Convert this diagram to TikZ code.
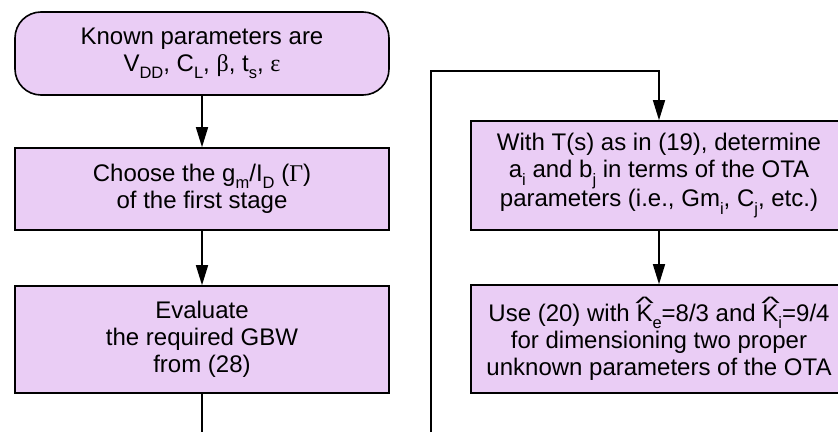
\documentclass[tikz,border=0pt]{standalone}
\usepackage{graphicx}
\usepackage{fontspec}
\setmainfont{Liberation Sans}
\newfontfamily\gr{Liberation Serif}
\usetikzlibrary{arrows.meta}
\definecolor{boxfill}{RGB}{234,205,245}
\newcommand\lo[1]{\raisebox{-0.3em}{\fontsize{16.5}{16.5}\selectfont #1}}
\newcommand\hatK{\makebox[0pt][l]{\hspace{-0.05em}\raisebox{0.5em}{\scalebox{1.65}[0.75]{\char`\^}}}K}
\begin{document}
\begin{tikzpicture}[x=1pt,y=1pt,
  stepbox/.style={draw=black,line width=1.6pt,fill=boxfill,align=center,
    inner sep=0pt,font=\fontsize{24}{27}\selectfont},
  flow/.style={line width=1.6pt,-{Triangle[length=20pt,width=12pt]}},
  plain/.style={line width=1.6pt}]
\useasboundingbox (0,0) rectangle (838,432);
\clip (0,0) rectangle (838,432);
\node[stepbox,rounded corners=26pt,minimum width=374pt,minimum height=83pt] (known) at (202,378.5)
  {Known parameters are\\V\lo{DD}, C\lo{L}, {\gr β}, t\lo{s}, {\gr ε}};
\node[stepbox,minimum width=374pt,minimum height=82pt] (choose) at (202,243)
  {Choose the g\lo{m}/I\lo{D} ({\gr Γ})\\of the first stage};
\node[stepbox,minimum width=374pt,minimum height=107pt] (eval) at (202,92.5)
  {Evaluate\\the required GBW\\from (28)};
\node[stepbox,minimum width=376pt,minimum height=109pt] (tfun) at (659,256.5)
  {With T(s) as in (19), determine\\a\lo{i} and b\lo{j} in terms of the OTA\\parameters (i.e., Gm\lo{i}, C\lo{j}, etc.)};
\node[stepbox,minimum width=376pt,minimum height=108pt] (use) at (659,93)
  {Use (20) with \hatK\lo{e}=8/3 and \hatK\lo{i}=9/4\\for dimensioning two proper\\unknown parameters of the OTA};
\coordinate (evalend) at (202,0);
\coordinate (loopstart) at (431,0);
\coordinate (loopcorner1) at (431,361);
\coordinate (loopcorner2) at (659,361);
\draw[flow] (known) -- (choose);
\draw[flow] (choose) -- (eval);
\draw[plain] (eval.south) -- (evalend);
\draw[flow] (loopstart) -- (loopcorner1) -- (loopcorner2) -- (tfun.north);
\draw[flow] (tfun) -- (use);
\end{tikzpicture}
\end{document}
